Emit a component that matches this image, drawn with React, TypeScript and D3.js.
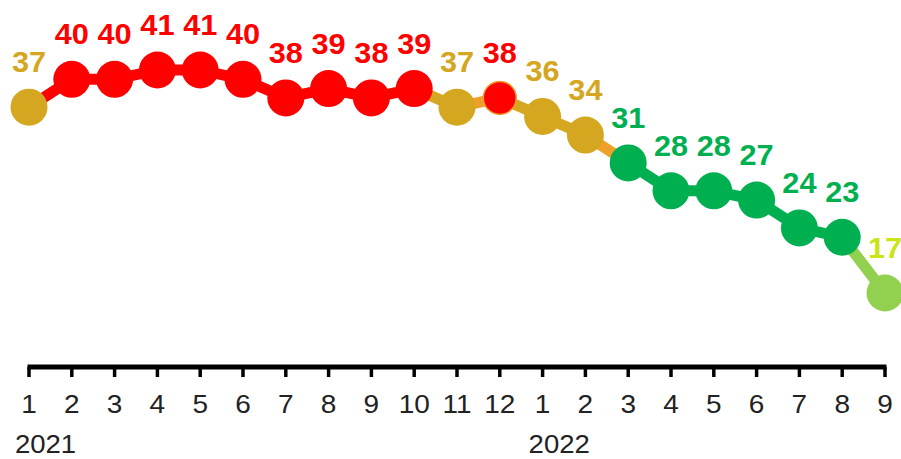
import React from "react";
import * as d3 from "d3";

const months = [1, 2, 3, 4, 5, 6, 7, 8, 9, 10, 11, 12, 1, 2, 3, 4, 5, 6, 7, 8, 9];
const values = [37, 40, 40, 41, 41, 40, 38, 39, 38, 39, 37, 38, 36, 34, 31, 28, 28, 27, 24, 23, 17];
const years = [
  { label: "2021", index: 0 },
  { label: "2022", index: 12 },
];
// band of each connecting segment (i -> i+1)
const segmentBands = [
  "red", "red", "red", "red", "red", "red", "red", "red", "red",
  "gold", "orange", "gold", "gold", "orange",
  "green", "green", "green", "green", "green", "lime",
];

const W = 901;
const H = 459;

const COLORS: Record<string, string> = {
  red: "#FF0000",
  gold: "#D5A620",
  orange: "#EFA02A",
  green: "#00B050",
  lime: "#92D050",
};

function pointBand(v: number): string {
  if (v >= 38) return "red";
  if (v >= 32) return "gold";
  if (v >= 20) return "green";
  return "lime";
}
function labelColor(v: number): string {
  if (v < 20) return "#CCE317";
  return COLORS[pointBand(v)];
}

export default function App() {
  const x = d3.scaleLinear().domain([0, values.length - 1]).range([29, 885]);
  const y = d3.scaleLinear().domain([17, 41]).range([293, 70]);
  const axisY = 367;
  const font = "'Liberation Sans', Arial, Helvetica, sans-serif";

  return (
    <svg
      width={W}
      height={H}
      style={{ position: "absolute", left: 0, top: 0, background: "#fff" }}
    >
      {values.slice(0, -1).map((v, i) => {
        const line = d3.line<number>()
          .x((_, k) => x(i + k))
          .y((d) => y(d));
        return (
          <path
            key={"s" + i}
            d={line([v, values[i + 1]]) || ""}
            stroke={COLORS[segmentBands[i]]}
            strokeWidth={11}
            fill="none"
          />
        );
      })}
      {values.map((v, i) => {
        const band = pointBand(v);
        const special = i > 0 && segmentBands[i - 1] === "orange" && band === "red";
        return (
          <circle
            key={"c" + i}
            cx={x(i)}
            cy={y(v)}
            r={special ? 16.5 : 18.5}
            fill={COLORS[band]}
            stroke={special ? COLORS.orange : "none"}
            strokeWidth={special ? 1.5 : 0}
          />
        );
      })}
      {values.map((v, i) => (
        <text
          key={"l" + i}
          transform={`translate(${x(i)},${y(v) - 35}) scale(1.04,1)`}
          textAnchor="middle"
          fontFamily={font}
          fontWeight="bold"
          fontSize={29.5}
          fill={labelColor(v)}
        >
          {v}
        </text>
      ))}
      <line
        x1={x(0) - 1.5}
        x2={x(values.length - 1) + 1.5}
        y1={axisY}
        y2={axisY}
        stroke="#000"
        strokeWidth={5}
      />
      {months.map((m, i) => (
        <g key={"t" + i}>
          <line
            x1={x(i)}
            x2={x(i)}
            y1={axisY}
            y2={axisY + 10}
            stroke="#000"
            strokeWidth={3.5}
          />
          <text
            transform={`translate(${x(i)},${413}) scale(1.12,1)`}
            textAnchor="middle"
            fontFamily={font}
            fontSize={25}
            fill="#222"
          >
            {m}
          </text>
        </g>
      ))}
      {years.map((yr) => (
        <text
          key={yr.label}
          transform={`translate(${x(yr.index) - 14},${453}) scale(1.1,1)`}
          textAnchor="start"
          fontFamily={font}
          fontSize={25}
          fill="#222"
        >
          {yr.label}
        </text>
      ))}
    </svg>
  );
}
